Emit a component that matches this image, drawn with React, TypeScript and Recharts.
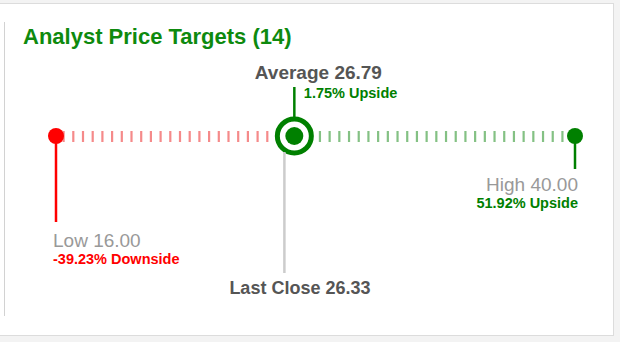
import React from 'react';
import { ComposedChart, XAxis, YAxis, Scatter, ReferenceLine } from 'recharts';

// ---- data ----
const chartTitle = 'Analyst Price Targets';
const analystCount = 14;
const targetKinds = ['low', 'average', 'high'];
const targetNames = ['Low', 'Average', 'High'];
const targetValues = [16.0, 26.79, 40.0];
const targetChanges = ['-39.23% Downside', '1.75% Upside', '51.92% Upside'];
const lastCloseName = 'Last Close';
const lastCloseValue = 26.33;

// ---- layout / style ----
const W = 620;
const H = 342;
const TRACK_Y = 136;
const FONT = "'Liberation Sans', Arial, Helvetica, sans-serif";
const RED = '#ff0000';
const GREEN = '#008000';
const RED_DASH = '#f58a8a';
const GREEN_DASH = '#84c184';
const DARK = '#555555';
const GREY = '#999999';
const EDGE_SHIFT = -5; // end dots sit slightly left of their scale position

const points = [
  ...targetKinds.map((k, i) => ({
    kind: k,
    x: targetValues[i],
    y: TRACK_Y,
    name: targetNames[i],
    change: targetChanges[i],
  })),
  { kind: 'close', x: lastCloseValue, y: TRACK_Y, name: lastCloseName, change: '' },
];

const low = targetValues[0];
const avg = targetValues[1];
const high = targetValues[2];

const PointShape = (props: any) => {
  const { cx, cy, payload } = props;
  if (cx == null || cy == null) return null;
  const label = `${payload.name} ${payload.x.toFixed(2)}`;
  if (payload.kind === 'low') {
    const x = cx + EDGE_SHIFT;
    return (
      <g>
        <line x1={x} y1={cy} x2={x} y2={cy + 86} stroke={RED} strokeWidth={2.5} />
        <circle cx={x} cy={cy} r={8} fill={RED} />
        <text x={x - 3} y={cy + 111} fontFamily={FONT} fontSize={19} fill={GREY}>{label}</text>
        <text x={x - 3} y={cy + 128} fontFamily={FONT} fontSize={14.5} fontWeight="bold" fill={RED}>
          {payload.change}
        </text>
      </g>
    );
  }
  if (payload.kind === 'high') {
    const x = cx + EDGE_SHIFT;
    return (
      <g>
        <line x1={x} y1={cy} x2={x} y2={cy + 33} stroke={GREEN} strokeWidth={2.5} />
        <circle cx={x} cy={cy} r={8} fill={GREEN} />
        <text x={x + 3} y={cy + 55} textAnchor="end" fontFamily={FONT} fontSize={19} fill={GREY}>{label}</text>
        <text x={x + 3} y={cy + 72} textAnchor="end" fontFamily={FONT} fontSize={14.5} fontWeight="bold" fill={GREEN}>
          {payload.change}
        </text>
      </g>
    );
  }
  if (payload.kind === 'average') {
    return (
      <g>
        <line x1={cx} y1={cy - 49} x2={cx} y2={cy - 18} stroke={GREEN} strokeWidth={2.5} />
        <circle cx={cx} cy={cy} r={17} fill="#ffffff" stroke={GREEN} strokeWidth={5} />
        <circle cx={cx} cy={cy} r={9} fill={GREEN} />
        <text x={cx - 39.5} y={cy - 57} fontFamily={FONT} fontSize={19} fontWeight="bold" fill={DARK}>{label}</text>
        <text x={cx + 9.5} y={cy - 38.5} fontFamily={FONT} fontSize={14.5} fontWeight="bold" fill={GREEN}>
          {payload.change}
        </text>
      </g>
    );
  }
  // last close
  return (
    <g>
      <line x1={cx} y1={cy + 16} x2={cx} y2={cy + 137} stroke="#cccccc" strokeWidth={2.5} />
      <text x={cx - 55} y={cy + 158} fontFamily={FONT} fontSize={18} fontWeight="bold" fill={DARK}>{label}</text>
    </g>
  );
};

const dashShape = (startPad: number, endPad: number, color: string) => (props: any) => {
  const { x1, y1, x2, y2 } = props;
  if (x1 == null || x2 == null) return null;
  return (
    <line
      x1={x1 + startPad}
      y1={y1}
      x2={x2 + endPad}
      y2={y2}
      stroke={color}
      strokeWidth={11}
      strokeDasharray="2.2 7.5"
    />
  );
};

export default function App() {
  return (
    <div style={{ position: 'relative', width: W, height: H, background: '#f3f3f3', overflow: 'hidden' }}>
      <style>{'body{margin:0;}'}</style>
      <div
        style={{
          position: 'absolute',
          left: -1,
          top: 3,
          width: 615,
          height: 333,
          boxSizing: 'border-box',
          border: '1px solid #dcdcdc',
          background: '#ffffff',
        }}
      />
      <div style={{ position: 'absolute', left: 4, top: 22, width: 1, height: 294, background: '#d2d2d2' }} />
      <div style={{ position: 'absolute', left: 0, top: 0 }}>
        <ComposedChart width={W} height={H} margin={{ top: 0, right: 40, bottom: 0, left: 61 }} data={points}>
          <XAxis type="number" dataKey="x" domain={[16, 40]} hide />
          <YAxis type="number" dataKey="y" domain={[0, H]} reversed hide />
          <text x={23} y={44} fontFamily={FONT} fontSize={22} fontWeight="bold" fill="#0e8a0e">
            {`${chartTitle} (${analystCount})`}
          </text>
          <ReferenceLine
            segment={[{ x: low, y: TRACK_Y + 0.5 }, { x: avg, y: TRACK_Y + 0.5 }]}
            ifOverflow="visible"
            shape={dashShape(1.5, -22, RED_DASH)}
          />
          <ReferenceLine
            segment={[{ x: avg, y: TRACK_Y + 0.5 }, { x: high, y: TRACK_Y + 0.5 }]}
            ifOverflow="visible"
            shape={dashShape(24.5, -14, GREEN_DASH)}
          />
          <Scatter data={points} dataKey="y" shape={PointShape} isAnimationActive={false} />
        </ComposedChart>
      </div>
    </div>
  );
}
